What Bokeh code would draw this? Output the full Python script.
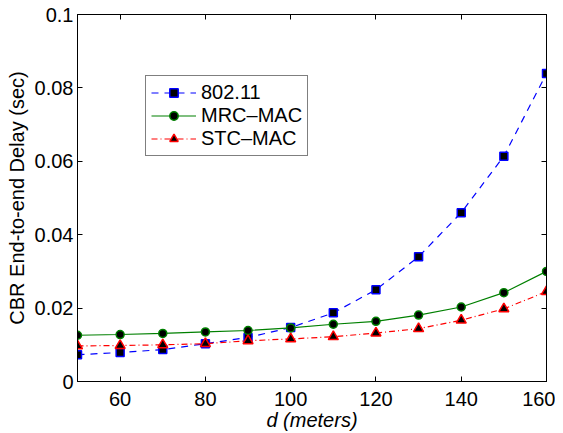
from bokeh.plotting import figure
from bokeh.models import ColumnDataSource, FixedTicker, LinearAxis, Legend, LegendItem, Range1d
from bokeh.embed import file_html
from bokeh.resources import INLINE

d = [50, 60, 70, 80, 90, 100, 110, 120, 130, 140, 150, 160]
ieee80211 = [0.0073, 0.0079, 0.0087, 0.0103, 0.0120, 0.0147, 0.0187, 0.0250, 0.0340, 0.0460, 0.0614, 0.0839]
mrc_mac = [0.0126, 0.0128, 0.0131, 0.0135, 0.0139, 0.0146, 0.0156, 0.0164, 0.0181, 0.0203, 0.0242, 0.0300]
stc_mac = [0.0097, 0.0098, 0.0100, 0.0103, 0.0111, 0.0116, 0.0122, 0.0132, 0.0144, 0.0167, 0.0198, 0.0245]
x_ticks = [60, 80, 100, 120, 140, 160]
y_ticks = [0, 0.02, 0.04, 0.06, 0.08, 0.1]
y_tick_labels = ["0", "0.02", "0.04", "0.06", "0.08", "0.1"]

src = ColumnDataSource(dict(d=d, a=ieee80211, m=mrc_mac, s=stc_mac))

FONT = "Liberation Sans"
FS = "20px"

p = figure(width=555, height=433, output_backend="svg", toolbar_location=None,
           x_range=Range1d(50, 160), y_range=Range1d(0, 0.1),
           min_border_left=77, min_border_right=9, min_border_top=14, min_border_bottom=51)
p.grid.visible = False
p.outline_line_color = "black"
p.outline_line_width = 1
p.background_fill_color = "white"
p.border_fill_color = "white"

for ax in (p.xaxis[0], p.yaxis[0]):
    ax.major_tick_in = 5
    ax.major_tick_out = 0
    ax.minor_tick_line_color = None
    ax.axis_line_color = "black"
    ax.major_label_text_font = FONT
    ax.major_label_text_font_size = FS
    ax.major_label_text_color = "black"
    ax.axis_label_text_font = FONT
    ax.axis_label_text_font_size = FS
    ax.axis_label_text_color = "black"

p.xaxis[0].ticker = FixedTicker(ticks=x_ticks)
p.yaxis[0].ticker = FixedTicker(ticks=y_ticks)
p.yaxis[0].major_label_overrides = {t: l for t, l in zip(y_ticks, y_tick_labels)}
p.xaxis[0].axis_label = "d (meters)"
p.xaxis[0].axis_label_text_font_style = "italic"
p.xaxis[0].axis_label_standoff = 0
p.xaxis[0].major_label_standoff = 10
p.yaxis[0].axis_label = "CBR End-to-end Delay (sec)"
p.yaxis[0].axis_label_text_font_style = "normal"
p.yaxis[0].axis_label_standoff = 4
p.yaxis[0].major_label_standoff = 4

top = LinearAxis(ticker=FixedTicker(ticks=x_ticks), major_label_text_font_size="0px",
                 major_tick_in=5, major_tick_out=0, minor_tick_line_color=None)
right = LinearAxis(ticker=FixedTicker(ticks=y_ticks), major_label_text_font_size="0px",
                   major_tick_in=5, major_tick_out=0, minor_tick_line_color=None)
top.major_label_text_color = None
right.major_label_text_color = None
p.add_layout(top, "above")
p.add_layout(right, "right")

l1 = p.line("d", "a", source=src, line_color="#0000ff", line_width=1.2, line_dash="7 6")
m1 = p.scatter("d", "a", source=src, marker="square", size=8, fill_color="black",
               line_color="#0000ff", line_width=1.5)
l2 = p.line("d", "m", source=src, line_color="#008000", line_width=1.2)
m2 = p.scatter("d", "m", source=src, marker="circle", size=8, fill_color="black",
               line_color="#008000", line_width=1.5)
l3 = p.line("d", "s", source=src, line_color="#ff0000", line_width=1.2, line_dash="6 3 1 3")
m3 = p.scatter("d", "s", source=src, marker="triangle", size=10, fill_color="black",
               line_color="#ff0000", line_width=1.5)

legend = Legend(items=[LegendItem(label="802.11", renderers=[l1, m1]),
                       LegendItem(label="MRC\u2013MAC", renderers=[l2, m2]),
                       LegendItem(label="STC\u2013MAC", renderers=[l3, m3])],
                location=(68, 225), orientation="vertical")
legend.border_line_color = "black"
legend.border_line_width = 1
legend.background_fill_color = "white"
legend.background_fill_alpha = 1
legend.label_text_font = FONT
legend.label_text_font_size = FS
legend.label_text_color = "black"
legend.glyph_width = 45
legend.glyph_height = 21
legend.label_height = 21
legend.label_standoff = 5
legend.spacing = 0
legend.padding = 5
legend.margin = 0
p.add_layout(legend, "center")

open("out.html", "w").write(file_html(p, INLINE))
